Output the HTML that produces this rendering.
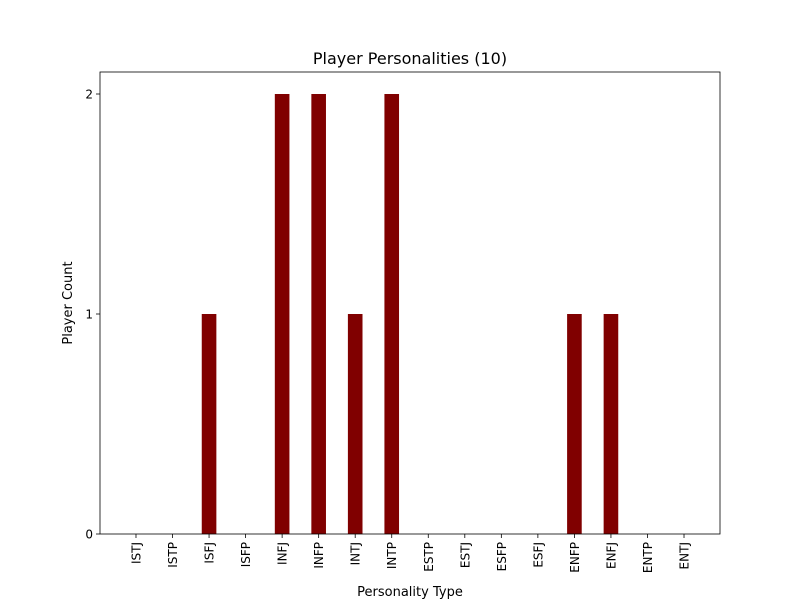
<!DOCTYPE html>
<html><head><meta charset="utf-8"><style>
body{margin:0;background:#fff;font-family:"DejaVu Sans","Liberation Sans",sans-serif;}
svg text{font-family:"DejaVu Sans","Liberation Sans",sans-serif;}
</style></head><body>
<svg id="chart" width="800" height="600" xmlns="http://www.w3.org/2000/svg">
<rect width="800" height="600" fill="#fff"/>
<g id="plot"></g>
<text x="410" y="64" font-size="16" text-anchor="middle">Player Personalities (10)</text>
<text x="410" y="596" font-size="13" text-anchor="middle">Personality Type</text>
<text x="72" y="303" font-size="13" text-anchor="middle" transform="rotate(-90 72 303)">Player Count</text>
</svg>
<script>
const categories=["ISTJ","ISTP","ISFJ","ISFP","INFJ","INFP","INTJ","INTP","ESTP","ESTJ","ESFP","ESFJ","ENFP","ENFJ","ENTP","ENTJ"];
const counts=[0,0,1,0,2,2,1,2,0,0,0,0,1,1,0,0];
const yTicks=[0,1,2];
const L=100,R=720,T=72,B=534,xmin=-0.985,xmax=15.985,ymax=2.1,bw=0.4;
const xs=v=>L+(v-xmin)/(xmax-xmin)*(R-L);
const ys=v=>B-v/ymax*(B-T);
const g=document.getElementById('plot');
const NS="http://www.w3.org/2000/svg";
function mk(t,a){const e=document.createElementNS(NS,t);for(const k in a)e.setAttribute(k,a[k]);g.appendChild(e);return e;}
categories.forEach((c,i)=>{
 const x0=xs(i-bw/2),x1=xs(i+bw/2);
 const r=mk('rect',{x:x0,y:ys(counts[i]),width:x1-x0,height:B-ys(counts[i]),fill:'#800000'});
 
 
 const x=xs(i);
 const tk=mk('line',{x1:x,x2:x,y1:B,y2:B+4,stroke:'#000','stroke-width':0.8});
 
 
 const t=mk('text',{x:x+4.5,y:B+8,'font-size':12,'text-anchor':'end',transform:`rotate(-90 ${x+4.5} ${B+8})`});
 t.textContent=c;
 
 
});
yTicks.forEach(v=>{
 const y=ys(v);
 const tk=mk('line',{x1:L-4,x2:L,y1:y,y2:y,stroke:'#000','stroke-width':0.8});
 
 
 const t=mk('text',{x:L-7,y:y+4.5,'font-size':12,'text-anchor':'end'});
 t.textContent=v;
 
 
});
const f=mk('rect',{x:L,y:T,width:R-L,height:B-T,fill:'none',stroke:'#000','stroke-width':0.8});


</script>
</body></html>
